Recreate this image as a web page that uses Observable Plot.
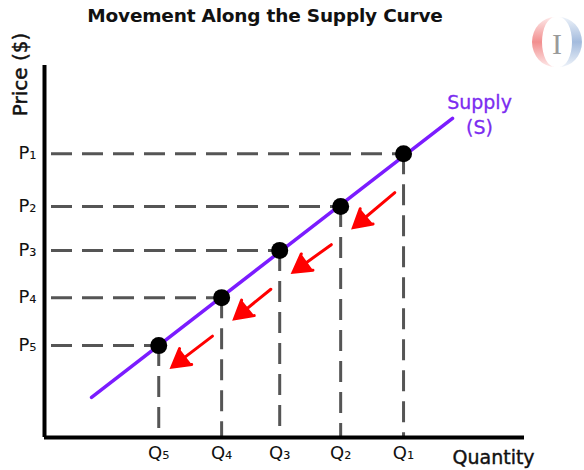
<!DOCTYPE html>
<html>
<head>
<meta charset="utf-8">
<script src="https://cdn.jsdelivr.net/npm/d3@7"></script>
<script src="https://cdn.jsdelivr.net/npm/@observablehq/plot@0.6"></script>
<style>
  html, body { margin: 0; padding: 0; background: #fff; }
  #wrap { position: relative; width: 584px; height: 470px; overflow: hidden; font-family: "DejaVu Sans", sans-serif; }
  #title { position: absolute; top: 5px; left: 265px; transform: translateX(-50%); white-space: nowrap;
           font-weight: bold; font-size: 18.5px; color: #111; letter-spacing: -0.2px; }
  #logo { position: absolute; left: 529px; top: 13px; }
</style>
</head>
<body>
<div id="wrap">
  <div id="chart"></div>
  <div id="title">Movement Along the Supply Curve</div>
  <svg id="logo" width="56" height="58" viewBox="0 0 56 58">
    <defs>
      <linearGradient id="gr" x1="0" y1="0" x2="0" y2="1">
        <stop offset="0" stop-color="#fde8e8"/><stop offset="0.5" stop-color="#f28f8f"/><stop offset="1" stop-color="#fde8e8"/>
      </linearGradient>
      <linearGradient id="gb" x1="0" y1="0" x2="0" y2="1">
        <stop offset="0" stop-color="#edf2f9"/><stop offset="0.5" stop-color="#a3bbdd"/><stop offset="1" stop-color="#edf2f9"/>
      </linearGradient>
    </defs>
    <path d="M26,4 A23,25 0 0,0 26,54 A13,25 0 0,1 26,4 Z" fill="url(#gr)"/>
    <path d="M30,4 A23,25 0 0,1 30,54 A13,25 0 0,0 30,4 Z" fill="url(#gb)"/>
    <text x="28" y="41" text-anchor="middle" font-family="Liberation Serif" font-size="30" fill="#9a9a9a">I</text>
  </svg>
</div>
<script>
// Values (abstract units 0-100 on both axes)
const quantityLabels = ["Q₅", "Q₄", "Q₃", "Q₂", "Q₁"];
const quantities     = [23.8, 36.9, 49.0, 61.7, 74.8];
const priceLabels    = ["P₅", "P₄", "P₃", "P₂", "P₁"];
const prices         = [24.7, 37.6, 50.3, 62.1, 76.3];
const supplyQuantity = [9.8, 85.0];
const supplyPrice    = [10.8, 85.8];
const supplyLabel    = "Supply\n(S)";

const points = quantities.map((q, i) => ({q, p: prices[i], ql: quantityLabels[i], pl: priceLabels[i]}));
const supply = supplyQuantity.map((q, i) => ({q, p: supplyPrice[i]}));
const moves = points.slice(1).map((d, i) => ({from: d, to: points[i]}));
const qLabel = new Map(points.map(d => [d.q, d.ql]));
const pLabel = new Map(points.map(d => [d.p, d.pl]));

const dash = "21,10";
const ink = "#111";
const chart = Plot.plot({
  width: 584, height: 470,
  marginLeft: 44, marginRight: 60, marginTop: 65, marginBottom: 33,
  x: {domain: [0, 100], axis: null},
  y: {domain: [0, 100], axis: null},
  style: {fontFamily: "DejaVu Sans", background: "white", overflow: "visible"},
  marks: [
    Plot.ruleY(points, {y: "p", x1: 0, x2: "q", stroke: "#555", strokeWidth: 3, strokeDasharray: dash, strokeDashoffset: -7}),
    Plot.ruleX(points, {x: "q", y1: "p", y2: 0, stroke: "#555", strokeWidth: 3, strokeDasharray: dash}),
    Plot.line(supply, {x: "q", y: "p", stroke: "#7b1cff", strokeWidth: 3.5}),
    Plot.arrow(moves, {x1: d => d.from.q, y1: d => d.from.p, x2: d => d.to.q, y2: d => d.to.p,
      dx: 2, dy: 30, insetStart: 14, insetEnd: 14, stroke: "#ff0000", fill: "#ff0000", strokeWidth: 3,
      headLength: 10, headAngle: 60, strokeLinejoin: "miter", strokeMiterlimit: 4}),
    Plot.dot(points, {x: "q", y: "p", r: 8.5, fill: "#000"}),
    Plot.ruleX([0], {stroke: "#000", strokeWidth: 4}),
    Plot.ruleY([0], {x1: 0, x2: 100, stroke: "#000", strokeWidth: 4}),
    Plot.axisY({ticks: prices, tickFormat: d => pLabel.get(d), tickSize: 0, tickPadding: 8, fontSize: 18, label: null,
      fill: ink, stroke: ink, strokeWidth: 0.4}),
    Plot.axisX({ticks: quantities, tickFormat: d => qLabel.get(d), tickSize: 0, tickPadding: 9, fontSize: 18, label: null,
      fill: ink, stroke: ink, strokeWidth: 0.4}),
    Plot.text([supplyLabel], {x: supplyQuantity[1], y: supplyPrice[1], text: d => d, dx: 27, dy: -5,
      lineAnchor: "middle", lineHeight: 1.35, fontSize: 19, fill: "#7b2cf0", stroke: "#7b2cf0", strokeWidth: 0.3}),
    Plot.text(["Quantity"], {frameAnchor: "bottom-right", dx: -72, dy: 20, textAnchor: "start", lineAnchor: "middle",
      fontSize: 19, fill: ink, stroke: ink, strokeWidth: 0.4, letterSpacing: "0.6px"}),
    Plot.text(["Price ($)"], {frameAnchor: "top-left", dx: -24, dy: 9, rotate: -90, textAnchor: "middle", lineAnchor: "middle",
      fontSize: 20, fill: ink, stroke: ink, strokeWidth: 0.5, letterSpacing: "0.6px"})
  ]
});
document.getElementById("chart").append(chart);
</script>
</body>
</html>
